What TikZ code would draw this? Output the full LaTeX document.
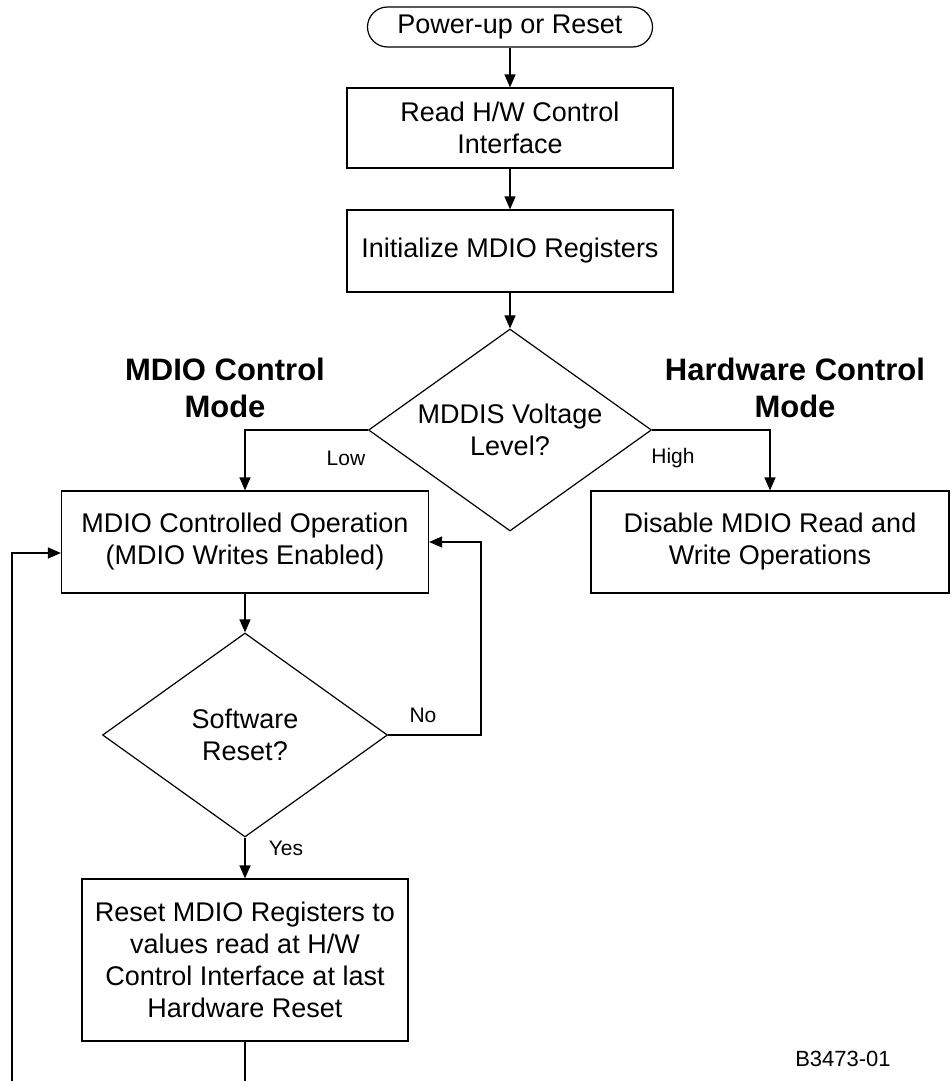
\documentclass[tikz,border=0pt]{standalone}
\usepackage{fontspec}
\setmainfont{Liberation Sans}
\usetikzlibrary{shapes.geometric,arrows.meta}
\begin{document}
\begin{tikzpicture}[x=1pt,y=-1pt,line width=1.2pt,
    boite/.style={draw,align=center,inner sep=0pt,font=\fontsize{27}{32}\selectfont},
    choix/.style={draw,diamond,shape aspect=1.4,align=center,inner sep=0pt,font=\fontsize{27}{32}\selectfont},
    fleche/.style={-{Triangle[length=13pt,width=11pt]}},
    etiq/.style={font=\fontsize{21}{25}\selectfont},
    titre/.style={align=center,font=\fontsize{31}{37}\selectfont\bfseries}]
  \useasboundingbox (0,0) rectangle (952,1081);
  % blocs du haut
  \node[boite,rounded corners=20pt,minimum width=285pt,minimum height=40pt] (start) at (510,27) {Power-up or Reset};
  \node[boite,minimum width=326pt,minimum height=80pt] (read) at (510,128) {Read H/W Control\\Interface};
  \node[boite,minimum width=326pt,minimum height=82pt] (init) at (510,251) {Initialize MDIO Registers};
  \node[choix,minimum width=283pt,minimum height=202pt] (volt) at (510,430) {MDDIS Voltage\\Level?};
  % les deux modes
  \node[titre] (mdiomode) at (225,388) {MDIO Control\\Mode};
  \node[titre] (hwmode) at (795,388) {Hardware Control\\Mode};
  \node[boite,minimum width=367pt,minimum height=102pt] (mdio) at (245,542) {MDIO Controlled Operation\\(MDIO Writes Enabled)};
  \node[boite,minimum width=358pt,minimum height=102pt] (hw) at (770,542) {Disable MDIO Read and\\Write Operations};
  \node[choix,minimum width=285pt,minimum height=204pt] (swr) at (245,735) {Software\\Reset?};
  \node[boite,minimum width=326pt,minimum height=162pt] (rst) at (245,960) {Reset MDIO Registers to\\values read at H/W\\Control Interface at last\\Hardware Reset};
  % etiquettes
  \node[etiq] (low) at (346,458) {Low};
  \node[etiq] (high) at (673,458) {High};
  \node[etiq] (no) at (423,715) {No};
  \node[etiq] (yes) at (286,848) {Yes};
  \node[font=\fontsize{22}{26}\selectfont] (ref) at (843,1059) {B3473-01};
  % liaisons
  \draw[fleche] (start) -- (read);
  \draw[fleche] (read) -- (init);
  \draw[fleche] (init) -- (volt);
  \draw[fleche] (volt.west) -| (mdio.north);
  \draw[fleche] (volt.east) -| (hw.north);
  \draw[fleche] (mdio) -- (swr);
  \draw[fleche] (swr) -- (rst);
  \coordinate (nocoin) at (481,735);
  \draw[fleche] (swr.east) -- (nocoin) |- (mdio.east);
  % retour (hors page)
  \coordinate (bas) at (245,1081);
  \coordinate (coin) at (12,1081);
  \draw (rst.south) -- (bas);
  \draw[fleche] (coin) |- ([yshift=-11pt]mdio.west);
\end{tikzpicture}
\end{document}
